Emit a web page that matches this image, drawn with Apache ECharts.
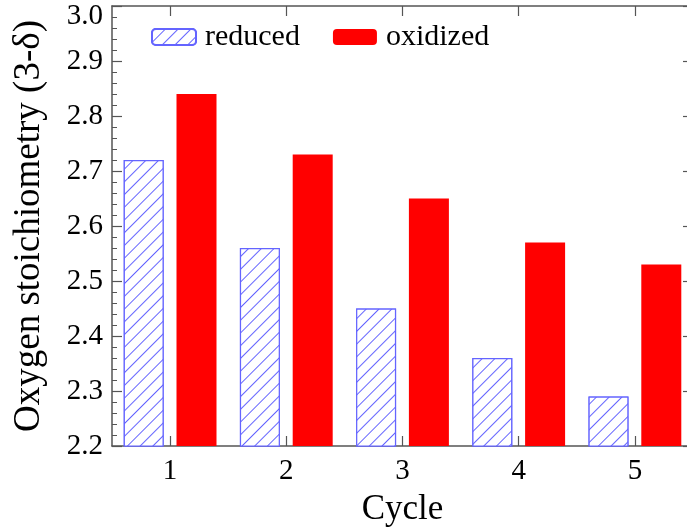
<!DOCTYPE html>
<html>
<head>
<meta charset="utf-8">
<script src="https://cdn.jsdelivr.net/npm/echarts@6/dist/echarts.min.js"></script>
<style>
  html, body { margin: 0; padding: 0; background: #fff; }
  #chart { width: 687px; height: 527px; }
</style>
</head>
<body>
<div id="chart"></div>
<script>
// Oxygen stoichiometry per redox cycle
const cycles = ['1', '2', '3', '4', '5'];
const reduced = [2.72, 2.56, 2.45, 2.36, 2.29];
const oxidized = [2.84, 2.73, 2.65, 2.57, 2.53];
const yTicks = { min: 2.2, max: 3.0, step: 0.1 };

const serif = '"Liberation Serif", "Times New Roman", serif';
const axisColor = '#555';
const hatchBlue = '#6464ff';

const chart = echarts.init(document.getElementById('chart'), null, { renderer: 'canvas' });

const catAxisBase = {
  type: 'category',
  data: cycles,
  boundaryGap: true,
  axisLine: { show: true, lineStyle: { color: axisColor, width: 1.5 } },
  axisTick: { show: true, inside: true, alignWithLabel: true, length: 10, lineStyle: { color: axisColor, width: 1.2 } },
  splitLine: { show: false }
};

const valAxisBase = {
  type: 'value',
  min: yTicks.min,
  max: yTicks.max,
  interval: yTicks.step,
  axisLine: { show: true, lineStyle: { color: axisColor, width: 1.5 } },
  axisTick: { show: true, inside: true, length: 10, lineStyle: { color: axisColor, width: 1.2 } },
  minorTick: { show: true, splitNumber: 5, length: 5, lineStyle: { color: axisColor, width: 1 } },
  splitLine: { show: false }
};

chart.setOption({
  backgroundColor: '#ffffff',
  animation: false,
  grid: { left: 112, right: -6, top: 6, bottom: 81, containLabel: false, outerBoundsMode: 'none' },
  legend: {
    left: 146,
    top: 17,
    itemWidth: 44,
    itemHeight: 16,
    itemGap: 33,
    selectedMode: false,
    textStyle: { fontFamily: serif, fontSize: 30, color: '#000', padding: [0, 0, 0, 4] },
    data: ['reduced', 'oxidized']
  },
  xAxis: [
    Object.assign({}, catAxisBase, {
      position: 'bottom',
      name: 'Cycle',
      nameLocation: 'middle',
      nameGap: 46,
      nameTextStyle: { fontFamily: serif, fontSize: 35, color: '#000' },
      axisLabel: { show: true, fontFamily: serif, fontSize: 29, color: '#000', margin: 11 }
    }),
    Object.assign({}, catAxisBase, {
      position: 'top',
      axisLabel: { show: false }
    })
  ],
  yAxis: [
    Object.assign({}, valAxisBase, {
      position: 'left',
      name: 'Oxygen stoichiometry (3-δ)',
      nameLocation: 'middle',
      nameGap: 64,
      nameTextStyle: { fontFamily: serif, fontSize: 37, color: '#000' },
      axisLabel: {
        show: true, fontFamily: serif, fontSize: 29, color: '#000', margin: 9,
        // the topmost label sits a little below its tick so it stays on the page
        formatter: v => v >= yTicks.max ? '{top|' + v.toFixed(1) + '}' : v.toFixed(1),
        rich: { top: { fontFamily: serif, fontSize: 29, color: '#000', padding: [20, 0, 0, 0] } }
      }
    }),
    Object.assign({}, valAxisBase, {
      position: 'right',
      axisLabel: { show: false }
    })
  ],
  series: [
    {
      name: 'reduced',
      type: 'bar',
      data: reduced,
      barWidth: 40,
      barGap: '32%',
      itemStyle: {
        color: '#ffffff',
        borderColor: hatchBlue,
        borderWidth: 1.2,
        decal: {
          symbol: 'rect',
          symbolSize: 1,
          color: hatchBlue,
          backgroundColor: '#ffffff',
          dashArrayX: [1, 0],
          dashArrayY: [1, 8],
          rotation: -Math.PI / 4
        }
      }
    },
    {
      name: 'oxidized',
      type: 'bar',
      data: oxidized,
      barWidth: 40,
      barGap: '32%',
      itemStyle: { color: '#ff0000' }
    }
  ]
});
</script>
</body>
</html>
